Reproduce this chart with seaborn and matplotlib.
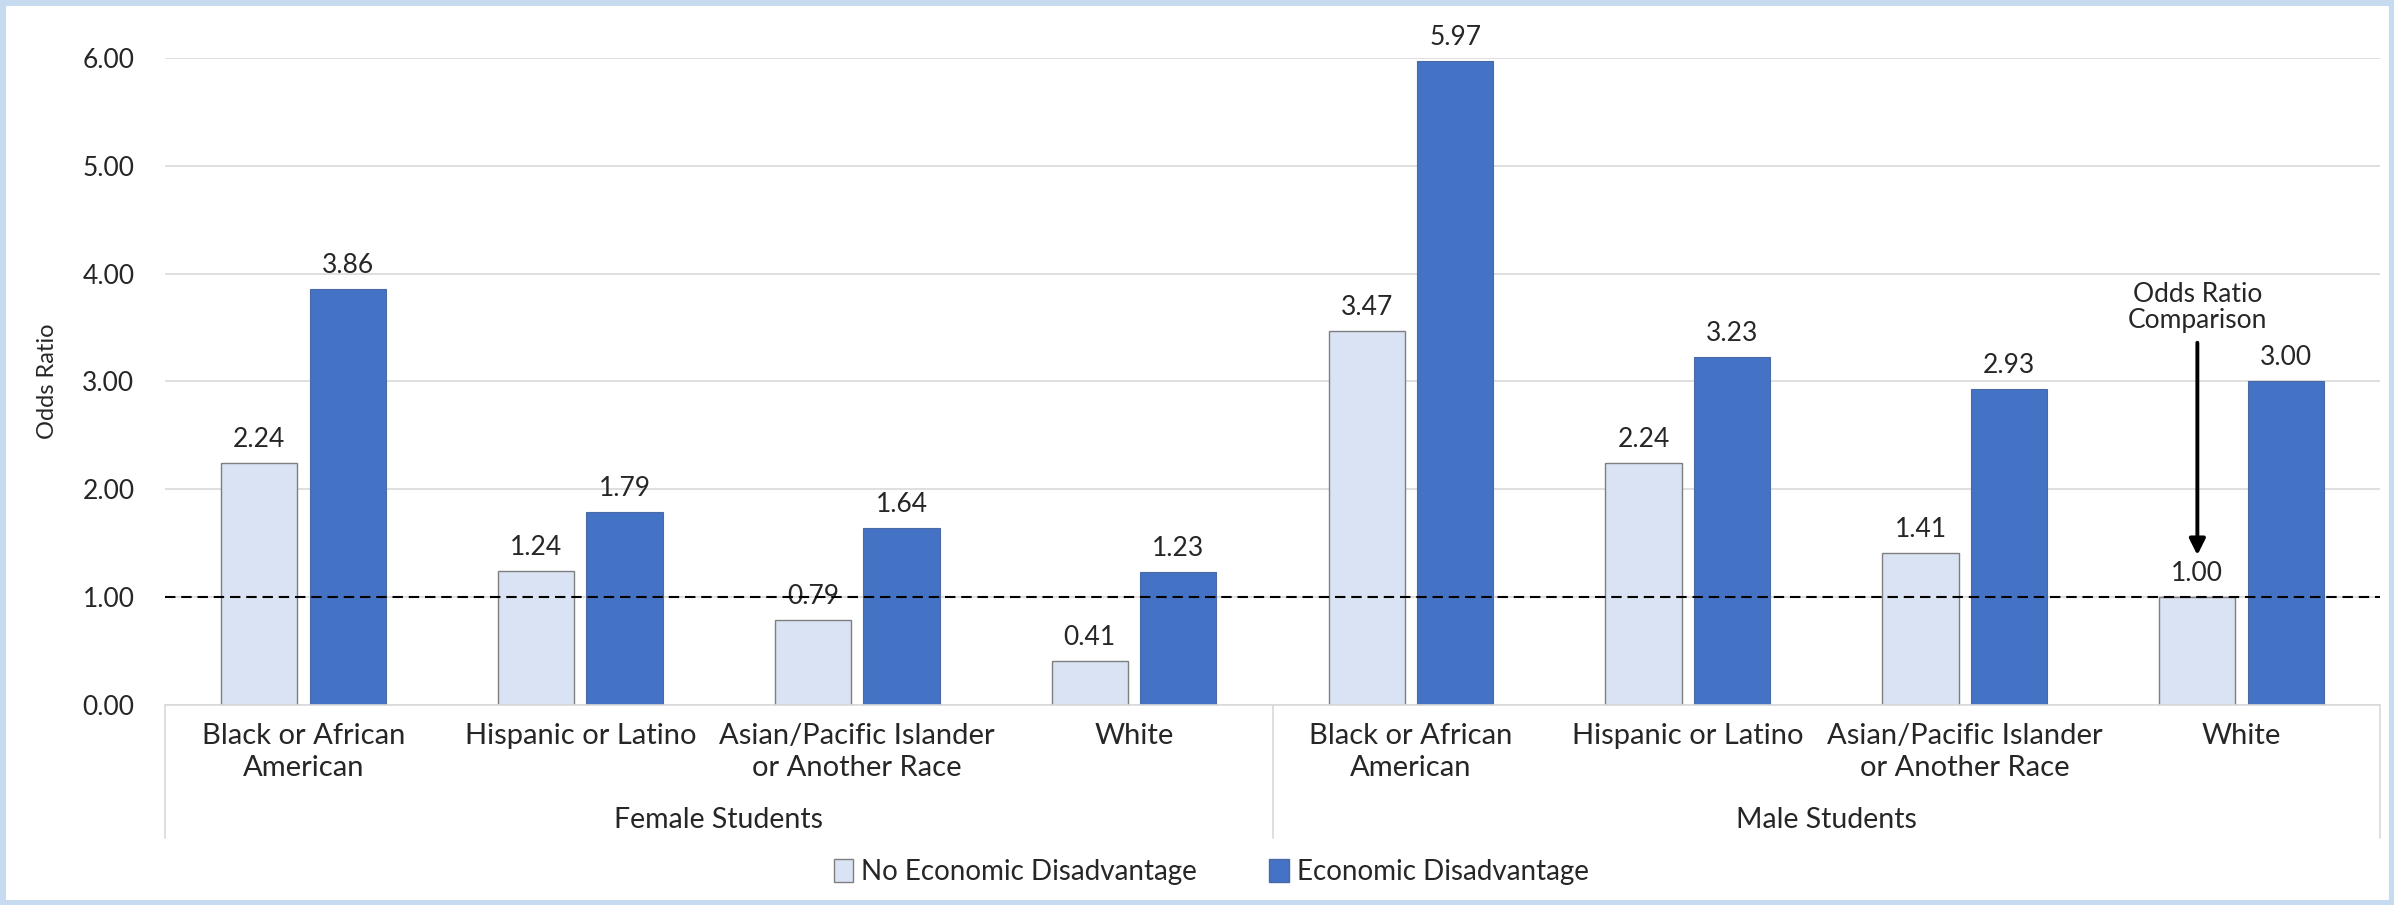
import pandas as pd
import matplotlib.pyplot as plt
import seaborn as sns
from matplotlib.patches import Rectangle, Patch
from matplotlib.transforms import blended_transform_factory

# --- データ ---
groups = ['Female Students', 'Male Students']
races = ['Black or African\nAmerican', 'Hispanic or Latino',
         'Asian/Pacific Islander\nor Another Race', 'White']
series_names = ['No Economic Disadvantage', 'Economic Disadvantage']
female_no_disadv = [2.24, 1.24, 0.79, 0.41]
female_disadv = [3.86, 1.79, 1.64, 1.23]
male_no_disadv = [3.47, 2.24, 1.41, 1.00]
male_disadv = [5.97, 3.23, 2.93, 3.00]
reference_value = 1.00
y_ticks = [0, 1, 2, 3, 4, 5, 6]

LIGHT = '#DAE3F3'
DARK = '#4472C4'
GRID = '#d9d9d9'
TEXT_COLOR = '#262626'
TEXT_FONT = ['Lato', 'DejaVu Sans']

# --- 縦長のテーブルに変換 ---
rows = []
for g, no_vals, dis_vals in [(groups[0], female_no_disadv, female_disadv),
                             (groups[1], male_no_disadv, male_disadv)]:
    for r, a, b in zip(races, no_vals, dis_vals):
        slot = f'{g}|{r}'
        rows.append({'slot': slot, 'race': r, 'group': g, 'status': series_names[0], 'odds': a})
        rows.append({'slot': slot, 'race': r, 'group': g, 'status': series_names[1], 'odds': b})
df = pd.DataFrame(rows)
slot_order = list(dict.fromkeys(df['slot']))

sns.set_style('white')
plt.rcParams['font.family'] = TEXT_FONT

fig = plt.figure(figsize=(23.94, 9.05), dpi=100)
ax = fig.add_axes([0.0689, 0.221, 0.9253, 0.715])

sns.barplot(data=df, x='slot', y='odds', hue='status', order=slot_order,
            hue_order=series_names, palette=[LIGHT, DARK], saturation=1,
            width=0.64, gap=0.14, errorbar=None, legend=False, ax=ax)

for bar in ax.containers[0]:
    bar.set_edgecolor('#7f7f7f')
    bar.set_linewidth(1.0)
for bar in ax.containers[1]:
    bar.set_edgecolor('#4a6aa5')
    bar.set_linewidth(0.8)

for cont in ax.containers:
    ax.bar_label(cont, fmt='%.2f', padding=8, fontsize=19, color=TEXT_COLOR)

# 基準線 (1.00)
ax.axhline(reference_value, color='black', linestyle=(0, (5, 2.8)), linewidth=1.5, zorder=3)

ax.set_ylim(0, 6)
ax.set_xlim(-0.5, len(slot_order) - 0.5)
ax.set_yticks(y_ticks)
ax.set_yticklabels([f'{v:.2f}' for v in y_ticks], fontsize=19, color=TEXT_COLOR)
ax.yaxis.grid(True, color=GRID, linewidth=1.2)
ax.set_axisbelow(True)
ax.tick_params(axis='y', length=0, pad=22)

ax.set_xticks(range(len(slot_order)))
ax.set_xticklabels(races * len(groups), fontsize=21, color=TEXT_COLOR, linespacing=1.3)
ax.tick_params(axis='x', length=0, pad=13)
ax.set_xlabel('')
ax.set_ylabel('Odds Ratio', fontsize=17, color=TEXT_COLOR)
ax.yaxis.set_label_coords(-0.0483, 0.5)

for side in ['top', 'right', 'left']:
    ax.spines[side].set_visible(False)
ax.spines['bottom'].set_color(GRID)
ax.spines['bottom'].set_linewidth(1.2)

# 2段目のカテゴリ（性別）
trans = blended_transform_factory(ax.transData, ax.transAxes)
for xpos in [-0.5, 3.5, 7.5]:
    ax.plot([xpos, xpos], [0, -0.205], transform=trans, color=GRID, linewidth=1.2, clip_on=False)
for i, g in enumerate(groups):
    ax.text(1.5 + 4 * i, -0.178, g, transform=trans, ha='center', va='center',
            fontsize=20.5, color=TEXT_COLOR)

# 注釈（比較の基準）
ref_bar = ax.containers[0][-1]
ref_x = ref_bar.get_x() + ref_bar.get_width() / 2
ax.annotate('Odds Ratio\nComparison', xy=(ref_x, 1.39), xytext=(ref_x, 3.69),
            ha='center', va='center', fontsize=19, color=TEXT_COLOR, linespacing=1.05,
            arrowprops=dict(arrowstyle='-|>', color='black', lw=2.8,
                            mutation_scale=24, shrinkA=5, shrinkB=0))

handles = [Patch(facecolor=LIGHT, edgecolor='#7f7f7f', label=series_names[0]),
           Patch(facecolor=DARK, edgecolor='#4a6aa5', label=series_names[1])]
fig.legend(handles=handles, loc='center', bbox_to_anchor=(0.506, 0.036), ncol=2,
           frameon=False, fontsize=20, handlelength=0.7, handleheight=0.9,
           handletextpad=0.3, columnspacing=2.6)

# 外枠
fig.patches.append(Rectangle((0, 0), 1, 1, transform=fig.transFigure, fill=False,
                             edgecolor='#c6dbef', linewidth=8))

fig.savefig('out.png', dpi=100, facecolor='white')
plt.close(fig)
